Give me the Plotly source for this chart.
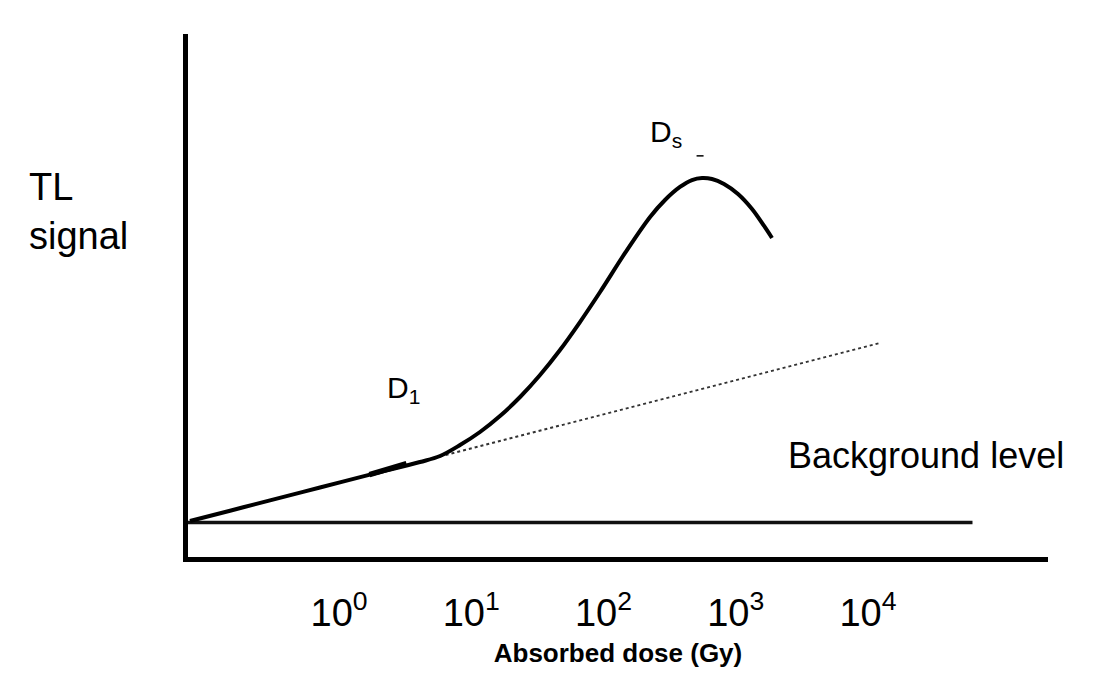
import plotly.graph_objects as go

# TL response curve (log10 of absorbed dose in Gy vs. TL signal, arbitrary units)
log_dose = [-1.127, -0.824, -0.522, -0.144, 0.234, 0.612, 0.764, 0.915, 1.066, 1.217,
            1.369, 1.520, 1.671, 1.822, 1.974, 2.163, 2.352, 2.465, 2.578, 2.669,
            2.745, 2.820, 2.911, 3.017, 3.123, 3.214, 3.274]
tl_signal = [0.688, 0.885, 1.082, 1.329, 1.576, 1.816, 1.931, 2.141, 2.390, 2.696,
             3.059, 3.480, 3.958, 4.493, 5.067, 5.813, 6.501, 6.826, 7.075, 7.208,
             7.247, 7.228, 7.132, 6.941, 6.654, 6.329, 6.099]

# extrapolated linear response
linear_log_dose = [-1.127, 4.091]
linear_signal = [0.688, 4.092]

# background level
bg_log_dose = [-1.142, 4.79]
bg_signal = [0.66, 0.66]

# short emphasis near D1 and mark at the saturation peak Ds
d1_log_dose = [0.23, 0.51]
d1_signal = [1.575, 1.785]
ds_log_dose = [2.73]
ds_signal = [7.67]

tick_exponents = [0, 1, 2, 3, 4]
tick_text = [f"10<sup>{e}</sup>" for e in tick_exponents]
tick_vals = [10 ** e for e in tick_exponents]

def dose(values):
    return [10 ** v for v in values]

FONT = "Liberation Sans, Arial, Helvetica, sans-serif"

fig = go.Figure()
fig.add_trace(go.Scatter(x=dose(bg_log_dose), y=bg_signal, mode="lines",
                         line=dict(color="#111", width=3.5), hoverinfo="skip"))
fig.add_trace(go.Scatter(x=dose(linear_log_dose), y=linear_signal, mode="lines",
                         line=dict(color="#333", width=2, dash="dot"), hoverinfo="skip"))
fig.add_trace(go.Scatter(x=dose(log_dose), y=tl_signal, mode="lines",
                         line=dict(color="#000", width=4, shape="spline", smoothing=1.0)))
fig.add_trace(go.Scatter(x=dose(d1_log_dose), y=d1_signal, mode="lines",
                         line=dict(color="#000", width=5.5), hoverinfo="skip"))
fig.add_trace(go.Scatter(x=dose(ds_log_dose), y=ds_signal, mode="markers",
                         marker=dict(symbol="line-ew", size=5,
                                     line=dict(color="#000", width=1.5)),
                         hoverinfo="skip"))

fig.update_layout(
    width=1101, height=675,
    margin=dict(l=188, r=53, t=34, b=118),
    paper_bgcolor="white", plot_bgcolor="white",
    showlegend=False,
    font=dict(family=FONT, color="#000"),
    xaxis=dict(
        type="log", range=[-1.142, 5.361],
        automargin=False,
        showline=True, linewidth=5, linecolor="#000",
        showgrid=False, zeroline=False, ticks="",
        tickvals=tick_vals, ticktext=tick_text,
        tickfont=dict(size=38, family=FONT, color="#000"),
        ticklabelstandoff=18,
        title=dict(text="<b>Absorbed dose (Gy)</b>", standoff=13,
                   font=dict(size=26, family=FONT, color="#000")),
    ),
    yaxis=dict(
        range=[0, 10],
        automargin=False,
        showline=True, linewidth=5, linecolor="#000",
        showgrid=False, zeroline=False, ticks="", showticklabels=False,
    ),
    annotations=[
        dict(text="TL<br>signal", xref="paper", yref="paper", x=-0.1872, y=0.6597,
             xanchor="left", yanchor="middle", align="left", showarrow=False,
             font=dict(size=38, family=FONT, color="#000")),
        dict(text="Background level", xref="paper", yref="paper", x=0.6953, y=0.1950,
             xanchor="left", yanchor="middle", showarrow=False,
             font=dict(size=36, family=FONT, color="#000")),
        dict(text="D<sub>1</sub>", xref="paper", yref="paper", x=0.2291, y=0.3212,
             xanchor="left", yanchor="middle", showarrow=False,
             font=dict(size=30, family=FONT, color="#000")),
        dict(text="D<sub>s</sub>", xref="paper", yref="paper", x=0.5349, y=0.8107,
             xanchor="left", yanchor="middle", showarrow=False,
             font=dict(size=30, family=FONT, color="#000")),
    ],
)

fig.write_html("out.html")
